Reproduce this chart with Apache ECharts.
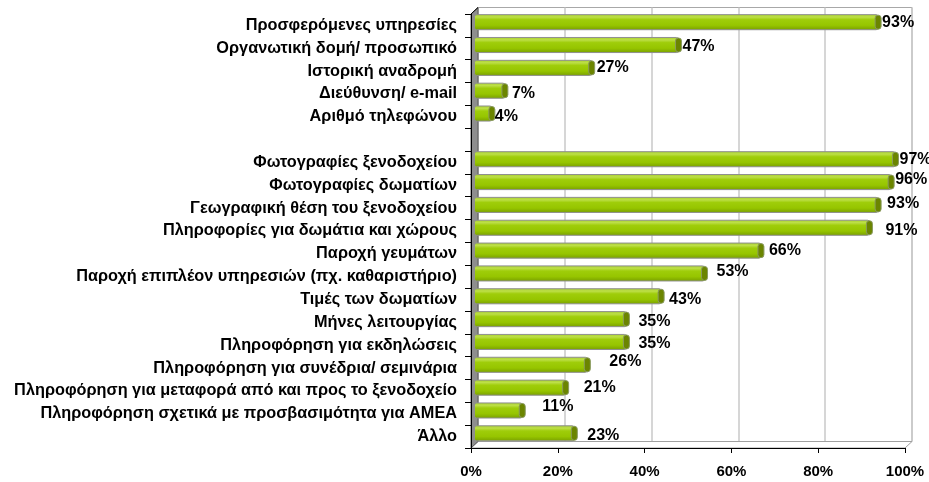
<!DOCTYPE html>
<html>
<head>
<meta charset="utf-8">
<script src="https://cdn.jsdelivr.net/npm/echarts@6/dist/echarts.min.js"></script>
<style>
  html, body { margin: 0; padding: 0; background: #ffffff; }
  #chart { width: 929px; height: 482px; }
</style>
</head>
<body>
<div id="chart"></div>
<script>
// Website content items and share of hotel sites offering them (%)
const categories = [
  'Προσφερόμενες υπηρεσίες',
  'Οργανωτική δομή/ προσωπικό',
  'Ιστορική αναδρομή',
  'Διεύθυνση/ e-mail',
  'Αριθμό τηλεφώνου',
  '',
  'Φωτογραφίες ξενοδοχείου',
  'Φωτογραφίες δωματίων',
  'Γεωγραφική θέση του ξενοδοχείου',
  'Πληροφορίες για δωμάτια και χώρους',
  'Παροχή γευμάτων',
  'Παροχή επιπλέον υπηρεσιών (πχ. καθαριστήριο)',
  'Τιμές των δωματίων',
  'Μήνες λειτουργίας',
  'Πληροφόρηση για εκδηλώσεις',
  'Πληροφόρηση για συνέδρια/ σεμινάρια',
  'Πληροφόρηση για μεταφορά από και προς το ξενοδοχείο',
  'Πληροφόρηση σχετικά με προσβασιμότητα για ΑΜΕΑ',
  'Άλλο'
];
const values = [93, 47, 27, 7, 4, null, 97, 96, 93, 91, 66, 53, 43, 35, 35, 26, 21, 11, 23];
const xTickLabels = ['0%', '20%', '40%', '60%', '80%', '100%'];

// Hand placement of the value labels: extra [dx, dy] beyond the default gap
const labelNudge = [
  [0, 0], [0, 2], [1, 0], [3, 3], [-1, 3], [0, 0],
  [0, 0], [0, -2], [5, -1], [12, 3], [4, 0], [8, -2], [4, 3],
  [8, 2], [8, 2], [18, -3], [14, 0], [16, -4], [9, 2]
];

const FONT = '"Liberation Sans", Arial, Helvetica, sans-serif';
const PLOT = { left: 471, top: 14, width: 434, height: 434 };
const DEPTH = { x: 7, y: -6.5 };   // offset of the back wall from the front plane
const VALUE_MAX = 100;

function gridAt(f) {
  return {
    left: PLOT.left + DEPTH.x * f,
    top: PLOT.top + DEPTH.y * f,
    width: PLOT.width,
    height: PLOT.height
  };
}

const chart = echarts.init(document.getElementById('chart'), null, { renderer: 'canvas' });

const barGradient = new echarts.graphic.LinearGradient(0, 0, 0, 1, [
  { offset: 0, color: '#a6cf2a' },
  { offset: 0.18, color: '#bddf48' },
  { offset: 0.35, color: '#9fcd0a' },
  { offset: 0.7, color: '#96c500' },
  { offset: 1, color: '#789e00' }
]);

function renderBar(params, api) {
  const v = api.value(0);
  if (v == null || isNaN(v)) return null;
  const idx = api.value(1);
  const start = api.coord([0, idx]);
  const end = api.coord([v, idx]);
  const band = api.size([0, 1])[1];
  const h = band * 0.66;
  const y = end[1] - h / 2;
  const capW = 6;
  const nudge = labelNudge[params.dataIndex] || [0, 0];
  return {
    type: 'group',
    children: [
      {
        type: 'rect',
        shape: { x: start[0], y: y, width: end[0] - start[0], height: h, r: 2 },
        style: { fill: barGradient, stroke: '#8f8f8f', lineWidth: 1 }
      },
      {
        type: 'rect',
        shape: { x: end[0] - capW / 2, y: y + 0.5, width: capW, height: h - 1, r: capW / 2 },
        style: { fill: '#6b8500', stroke: '#8a9a60', lineWidth: 1 }
      },
      {
        type: 'text',
        style: {
          text: v + '%',
          x: end[0] + capW / 2 + 1 + nudge[0],
          y: end[1] + nudge[1],
          align: 'left',
          verticalAlign: 'middle',
          fill: '#000000',
          font: 'bold 16px ' + FONT
        }
      }
    ]
  };
}

// Side wall and floor of the 3-D box, built from the front plot rectangle
function renderWalls(params) {
  const c = params.coordSys;
  const x0 = c.x, y0 = c.y, x1 = c.x + c.width, y1 = c.y + c.height;
  const dx = DEPTH.x, dy = DEPTH.y;
  return {
    type: 'group',
    children: [
      {
        type: 'polygon',
        shape: { points: [[x0, y1], [x1, y1], [x1 + dx, y1 + dy], [x0 + dx, y1 + dy]] },
        style: { fill: '#ffffff', stroke: '#a0a0a0', lineWidth: 1 }
      },
      {
        type: 'polygon',
        shape: { points: [[x0, y0], [x0 + dx, y0 + dy], [x0 + dx, y1 + dy], [x0, y1]] },
        style: { fill: '#8e8e8e', stroke: '#5a5a5a', lineWidth: 1 }
      },
      {
        type: 'line',
        shape: { x1: x0, y1: y0, x2: x0 + dx, y2: y0 + dy },
        style: { stroke: '#000000', lineWidth: 1 }
      }
    ]
  };
}

const front = gridAt(0), back = gridAt(1), mid = gridAt(0.5);

const option = {
  backgroundColor: '#ffffff',
  animation: false,
  grid: [
    Object.assign({ show: false }, front),
    Object.assign({ show: true, borderColor: '#a8a8a8', borderWidth: 1, backgroundColor: '#ffffff' }, back),
    Object.assign({ show: false }, mid)
  ],
  xAxis: [
    {
      gridIndex: 0, type: 'value', min: 0, max: VALUE_MAX, interval: 20, z: 10,
      axisLine: { show: true, lineStyle: { color: '#000000', width: 1 } },
      axisTick: { show: true, length: 5, lineStyle: { color: '#000000' } },
      splitLine: { show: false },
      axisLabel: {
        margin: 16,
        color: '#000000',
        fontFamily: FONT, fontWeight: 'bold', fontSize: 15,
        formatter: function (val) { return xTickLabels[Math.round(val / 20)]; }
      }
    },
    {
      gridIndex: 1, type: 'value', min: 0, max: VALUE_MAX, interval: 20,
      axisLine: { show: false }, axisTick: { show: false }, axisLabel: { show: false },
      splitLine: { show: true, lineStyle: { color: '#c8c8c8', width: 1.5 } }
    },
    {
      gridIndex: 2, type: 'value', min: 0, max: VALUE_MAX, show: false
    }
  ],
  yAxis: [
    {
      gridIndex: 0, type: 'category', data: categories, inverse: true, z: 10,
      axisLine: { show: true, lineStyle: { color: '#000000', width: 1 } },
      axisTick: { show: true, length: 6, lineStyle: { color: '#000000' } },
      axisLabel: {
        margin: 14, color: '#000000', interval: 0,
        fontFamily: FONT, fontWeight: 'bold', fontSize: 16.3
      }
    },
    { gridIndex: 1, type: 'category', data: categories, inverse: true, show: false },
    { gridIndex: 2, type: 'category', data: categories, inverse: true, show: false }
  ],
  series: [
    {
      type: 'custom', name: 'walls', xAxisIndex: 0, yAxisIndex: 0, z: 1,
      silent: true, renderItem: renderWalls, data: [[0, 0]]
    },
    {
      type: 'custom', name: 'share', xAxisIndex: 2, yAxisIndex: 2, z: 3,
      renderItem: renderBar,
      encode: { x: 0, y: 1 },
      data: values.map(function (v, i) { return [v == null ? '-' : v, i]; })
    }
  ]
};

chart.setOption(option);
</script>
</body>
</html>
